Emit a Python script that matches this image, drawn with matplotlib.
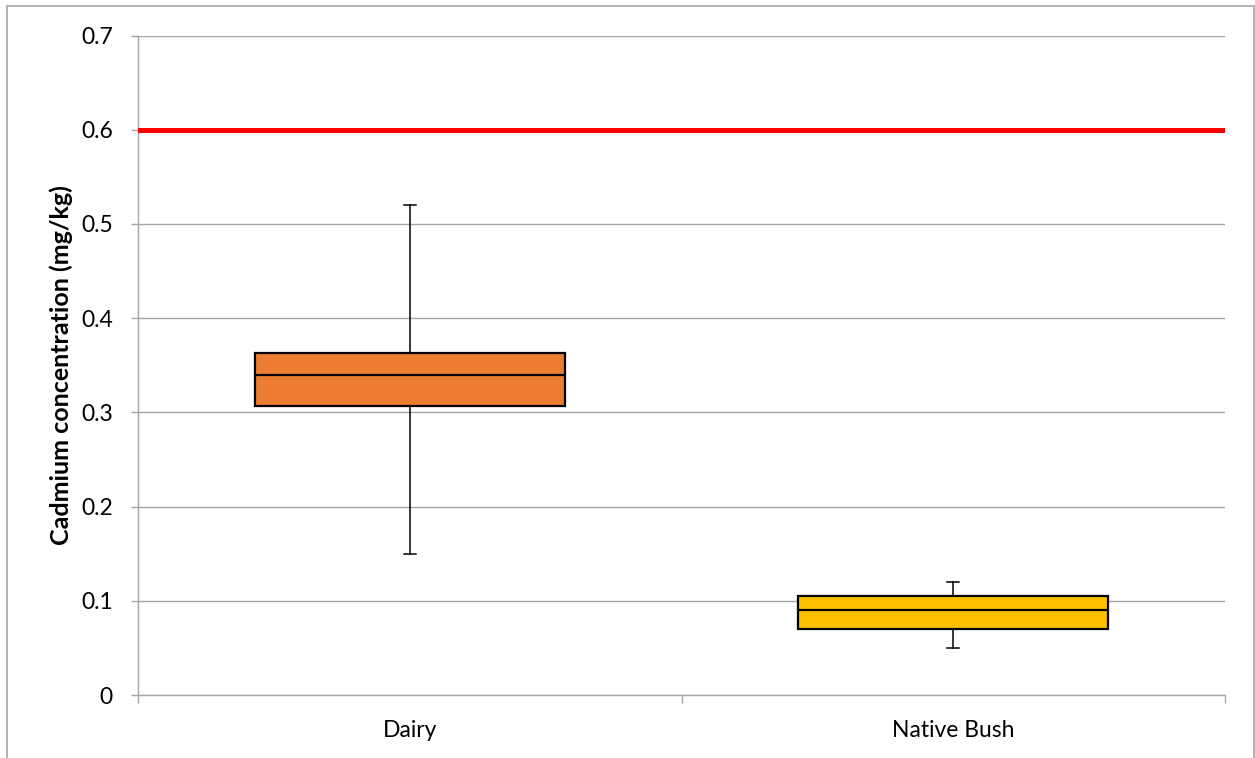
import matplotlib.pyplot as plt
from matplotlib.patches import Rectangle

# box plot values (mg/kg)
categories = ["Dairy", "Native Bush"]
whisker_low = [0.15, 0.05]
q1 = [0.307, 0.070]
median = [0.340, 0.090]
q3 = [0.363, 0.105]
whisker_high = [0.52, 0.12]
box_colors = ["#ED7D31", "#FFC000"]
threshold = 0.6
y_ticks = [0, 0.1, 0.2, 0.3, 0.4, 0.5, 0.6, 0.7]
y_ticklabels = ["0", "0.1", "0.2", "0.3", "0.4", "0.5", "0.6", "0.7"]

plt.rcParams["font.family"] = ["Lato", "DejaVu Sans"]

fig = plt.figure(figsize=(12.55, 7.58), dpi=100)
ax = fig.add_axes([138 / 1255, 63 / 758, 1087 / 1255, 659.5 / 758])

# light frame round the whole chart, like the excel chart area
fig.patches.append(Rectangle((7 / 1255, -0.02), 1247 / 1255, 0.02 + 752 / 758,
                             transform=fig.transFigure, fill=False,
                             edgecolor="#a6a6a6", linewidth=1.2))

positions = [i + 0.5 for i in range(len(categories))]
stats = []
for i, name in enumerate(categories):
    stats.append(dict(label=name, whislo=whisker_low[i], q1=q1[i], med=median[i],
                      q3=q3[i], whishi=whisker_high[i], fliers=[]))

bp = ax.bxp(stats, positions=positions, widths=0.57, patch_artist=True,
            showfliers=False,
            boxprops=dict(edgecolor="black", linewidth=1.6, zorder=3),
            medianprops=dict(color="black", linewidth=1.6, zorder=4),
            whiskerprops=dict(color="black", linewidth=1.1, zorder=2.5),
            capprops=dict(color="black", linewidth=1.1, zorder=2.5),
            capwidths=0.022)
for patch, c in zip(bp["boxes"], box_colors):
    patch.set_facecolor(c)

ax.axhline(threshold, color="#ff0000", linewidth=3.6, zorder=5)

ax.set_xlim(0, len(categories))
ax.set_ylim(0, 0.7)
ax.set_yticks(y_ticks)
ax.set_yticklabels(y_ticklabels)
ax.yaxis.grid(True, color="#a6a6a6", linewidth=1.0)
ax.set_axisbelow(True)

ax.set_xticks(positions)
ax.set_xticklabels(categories)
ax.set_xticks(range(len(categories) + 1), minor=True)
ax.tick_params(axis="x", which="major", length=0, pad=18, labelsize=16.5)
ax.tick_params(axis="x", which="minor", length=6, color="#a6a6a6", width=1.0)
ax.tick_params(axis="y", length=5, color="#a6a6a6", width=1.0, pad=13,
               labelsize=16.5)

for side in ["top", "right"]:
    ax.spines[side].set_visible(False)
for side in ["left", "bottom"]:
    ax.spines[side].set_color("#a6a6a6")
    ax.spines[side].set_linewidth(1.0)

ax.set_ylabel("Cadmium concentration (mg/kg)", fontsize=18, fontweight="bold",
              labelpad=6)

fig.savefig("out.png", dpi=100)
